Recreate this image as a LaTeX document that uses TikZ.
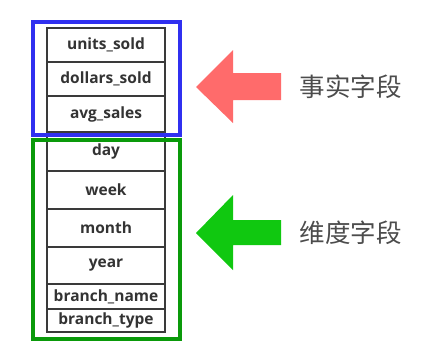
\documentclass[tikz,border=0pt]{standalone}
\usepackage{fontspec}
\setmainfont{Open Sans}
\newfontfamily\cjk{Noto Sans CJK SC}
\definecolor{factblue}{HTML}{3030F0}
\definecolor{dimgreen}{HTML}{0A9A0A}
\definecolor{arrowred}{HTML}{FF6B6B}
\definecolor{arrowgreen}{HTML}{10C810}
\definecolor{tableline}{HTML}{3A3A3A}
\begin{document}
\begin{tikzpicture}[x=1pt,y=-1pt,
  field/.style={draw=tableline,line width=2.4pt,rectangle,inner sep=0pt,
    minimum width=118pt,font=\bfseries\fontsize{15.5}{17}\selectfont,text=black!80},
  groupbox/.style={line width=3.6pt},
  label/.style={font=\cjk\fontsize{25.5}{28}\selectfont,text=black!70,anchor=west}]
\useasboundingbox (0,0) rectangle (423,362);
% table of fields
\node[field,minimum height=34pt] (r1) at (106,45)    {units\_sold};
\node[field,minimum height=34pt] (r2) at (106,79)    {dollars\_sold};
\node[field,minimum height=36pt] (r3) at (106,114)   {avg\_sales};
\node[field,minimum height=39pt] (r4) at (106,151.5) {day};
\node[field,minimum height=38pt] (r5) at (106,190)   {week};
\node[field,minimum height=38pt] (r6) at (106,228)   {month};
\node[field,minimum height=37pt] (r7) at (106,265.5) {year};
\node[field,minimum height=25pt] (r8) at (106,296.5) {branch\_name};
\node[field,minimum height=23pt] (r9) at (106,320.5) {branch\_type};
% group frames
\draw[groupbox,draw=factblue] (33,22) rectangle (180,135);
\draw[groupbox,draw=dimgreen] (33,140) rectangle (180,339);
% arrows
\fill[arrowred] (196,87) -- (233,50) -- (233,73) -- (281,73) -- (281,100) -- (233,100) -- (233,123) -- cycle;
\fill[arrowgreen] (196,233) -- (233,195) -- (233,220) -- (281,220) -- (281,245) -- (233,245) -- (233,270) -- cycle;
% labels
\node[label] (fact) at (296,87) {事实字段};
\node[label] (dim) at (296,233) {维度字段};
\end{tikzpicture}
\end{document}
